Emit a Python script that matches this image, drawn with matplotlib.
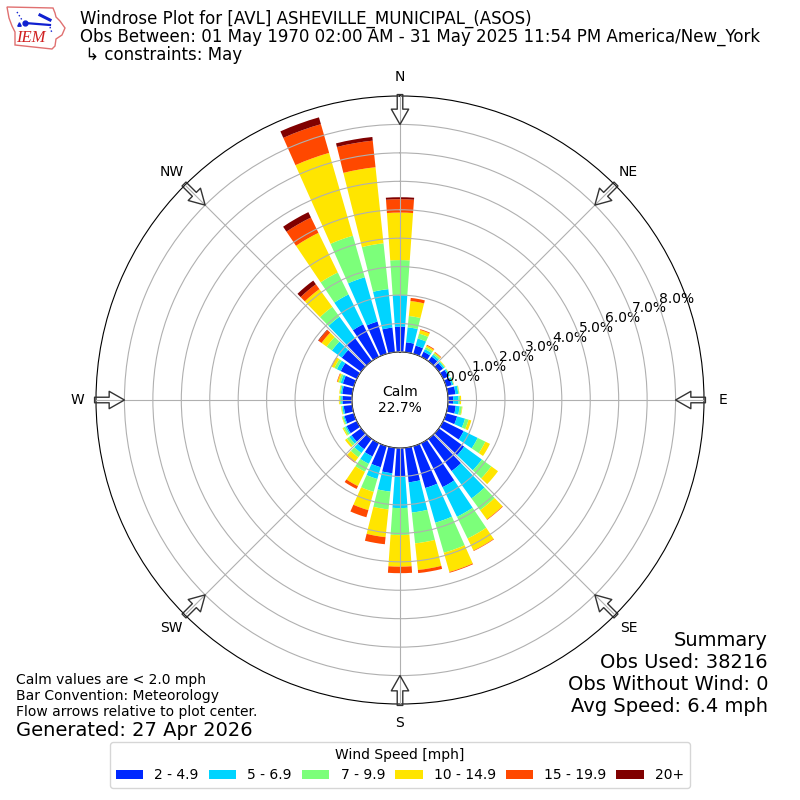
# windrose for AVL
import numpy as np
import matplotlib
matplotlib.use("Agg")
import matplotlib.pyplot as plt
from matplotlib.patches import Polygon

# percent of obs per 10 degree direction, 0 = N, going clockwise
directions = list(range(0, 360, 10))
speed_labels = ["2 - 4.9", "5 - 6.9", "7 - 9.9", "10 - 14.9", "15 - 19.9", "20+"]
speed_colors = ["#0028ff", "#00d4ff", "#7cff7a", "#ffe500", "#ff4800", "#800000"]

bin_2 = [.89, .35, .30, .20, .20, .18, .20, .20, .27, .18, .28, .40,
         .80, 1.10, 1.40, 1.72, 1.53, 1.22, 1.00, .90, .77, .52, .45, .42,
         .40, .34, .30, .33, .35, .40, .63, .84, 1.00, 1.27, 1.18, .87]
bin_5 = [1.11, .53, .26, .10, .08, .06, .05, .06, .10, .19, .14, .29,
         .55, .77, 1.19, 1.16, 1.27, 1.07, 1.11, .65, .43, .29, .17, .10,
         .05, .04, .05, .05, .05, .08, .15, .43, .93, 1.17, 1.62, 1.36]
bin_7 = [1.23, .40, .18, .08, .06, .03, .02, .02, .03, .05, .08, .13,
         .30, .41, .51, .85, 1.10, 1.09, .95, .63, .47, .31, .18, .10,
         .07, .04, .03, .05, .04, .07, .10, .23, .43, .86, 1.52, 1.62]
bin_10 = [1.67, .53, .13, .06, .04, .02, .01, .01, .01, .04, .02, .10,
          .18, .29, .40, .47, .70, .94, 1.11, .98, .67, .56, .20, .08,
          .04, .02, .02, .03, .02, .05, .10, .22, .77, 1.55, 3.03, 2.69]
bin_15 = [.47, .11, .03, .03, .02, 0, 0, 0, 0, 0, 0, 0,
          0, 0, .02, .02, .03, .11, .23, .25, .26, .11, .03, 0,
          0, 0, 0, 0, 0, .02, .02, .13, .21, .60, 1.05, .94]
bin_20 = [.07, 0, 0, 0, 0, 0, 0, 0, 0, 0, 0, 0,
          0, 0, 0, 0, 0, 0, 0, 0, 0, 0, 0, 0,
          0, 0, 0, 0, 0, 0, 0, .02, .16, .21, .25, .13]

title_lines = ["Windrose Plot for [AVL] ASHEVILLE_MUNICIPAL_(ASOS)",
               "Obs Between: 01 May 1970 02:00 AM - 31 May 2025 11:54 PM America/New_York",
               " \u21b3 constraints: May"]
rticks = [0, 1, 2, 3, 4, 5, 6, 7, 8]
compass = ["N", "NE", "E", "SE", "S", "SW", "W", "NW"]

fig = plt.figure(figsize=(8, 8), dpi=100)
ax = fig.add_axes([0.12, 0.12, 0.76, 0.76], projection="polar")
ax.set_theta_zero_location("N")
ax.set_theta_direction(-1)

theta = np.radians(directions)
width = np.radians(8)
bottom = np.zeros(len(directions))
bins = [bin_2, bin_5, bin_7, bin_10, bin_15, bin_20]
for i1 in range(len(bins)):
    vals = np.array(bins[i1])
    ax.bar(theta, vals, width=width, bottom=bottom, color=speed_colors[i1],
           label=speed_labels[i1], linewidth=0, align="center")
    bottom = bottom + vals

ax.set_ylim(0, 9)
ax.set_rorigin(-1.69)
ax.set_yticks(rticks)
ax.set_yticklabels(["%.1f%%" % r for r in rticks], fontsize=10)
ax.set_rlabel_position(70)
ax.set_xticks(np.radians(np.arange(0, 360, 45)))
ax.set_xticklabels(compass, fontsize=10)
ax.tick_params(axis="x", pad=3.2)
ax.set_axisbelow(False)
ax.grid(True)

# flow arrows on the spokes
for ang in np.radians(np.arange(0, 360, 45)):
    ax.annotate("", xy=(ang, 8.0), xytext=(ang, 9.05), annotation_clip=False,
                arrowprops=dict(width=4, headwidth=12.5, headlength=11,
                                facecolor="none", edgecolor="#333333",
                                linewidth=1, shrink=0))

ax.text(0.5, 0.5, "Calm\n22.7%", transform=ax.transAxes, ha="center",
        va="center", fontsize=10)

# titles
for i1 in range(len(title_lines)):
    fig.text(80 / 800, 1 - (18.5 + 18.5 * i1) / 800, title_lines[i1],
             fontsize=12, va="center", ha="left")

# bottom left notes
fig.text(16 / 800, 1 - 680 / 800, "Calm values are < 2.0 mph", fontsize=10, va="center")
fig.text(16 / 800, 1 - 696 / 800, "Bar Convention: Meteorology", fontsize=10, va="center")
fig.text(16 / 800, 1 - 712 / 800, "Flow arrows relative to plot center.", fontsize=10, va="center")
fig.text(16 / 800, 1 - 730 / 800, "Generated: 27 Apr 2026", fontsize=14, va="center")

# bottom right summary
summary = ["Summary", "Obs Used: 38216", "Obs Without Wind: 0", "Avg Speed: 6.4 mph"]
for i1 in range(len(summary)):
    fig.text(768 / 800, 1 - (640 + 22 * i1) / 800, summary[i1], fontsize=14,
             ha="right", va="center")

handles, labels = ax.get_legend_handles_labels()
fig.legend(handles, labels, title="Wind Speed [mph]", ncol=6, fontsize=10,
           title_fontsize=10, loc="center", bbox_to_anchor=(0.5, 1 - 765 / 800),
           columnspacing=0.7)

# IEM logo, pixel coords of the figure
logo = fig.add_axes([0, 1 - 56 / 800, 70 / 800, 56 / 800])
logo.set_xlim(0, 70)
logo.set_ylim(56, 0)
logo.axis("off")
outline = [(7, 7), (53, 8), (55, 13), (56, 17), (60, 21), (65, 28), (62, 35), (56, 39),
           (55, 46), (52, 49), (15, 45), (15, 32), (12, 26), (9, 18)]
logo.add_patch(Polygon(outline, closed=True, fill=False, edgecolor="#e07070", linewidth=1))
logo.plot([25, 50], [23, 25], color="#1020d0", linewidth=1.6)
logo.plot([25], [23], "o", color="#1020d0", markersize=3.5)
logo.plot([19], [24], "^", color="#1020d0", markersize=2.5)
logo.plot([17, 22], [12, 20], color="#1020d0", linewidth=1, linestyle=":")
logo.plot([40, 50], [15, 20], color="#1020d0", linewidth=2.2)
logo.plot([50, 52], [27, 33], color="#1020d0", linewidth=1, linestyle=":")
logo.text(30.5, 38, "IEM", color="#d02020", fontsize=12, family="Liberation Serif",
          style="italic", ha="center", va="center")

fig.savefig("out.png", dpi=100)
